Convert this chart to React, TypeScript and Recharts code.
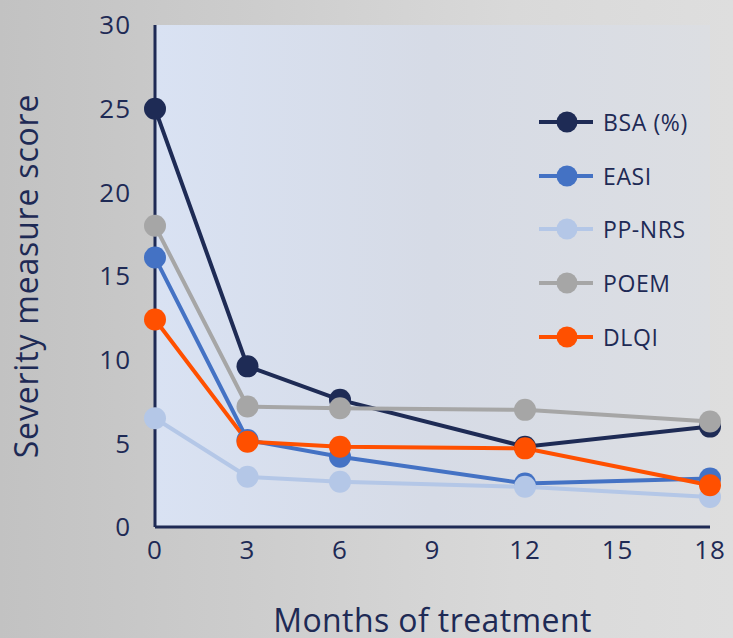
import React from 'react';
import {
  LineChart,
  Line,
  XAxis,
  YAxis,
  CartesianGrid,
} from 'recharts';

const months = [0, 3, 6, 12, 18];
const monthTicks = [0, 3, 6, 9, 12, 15, 18];
const scoreTicks = [0, 5, 10, 15, 20, 25, 30];

const bsa = [25, 9.6, 7.6, 4.8, 6.0];
const easi = [16.1, 5.2, 4.2, 2.6, 2.9];
const ppNrs = [6.5, 3.0, 2.7, 2.4, 1.8];
const poem = [18.0, 7.2, 7.1, 7.0, 6.3];
const dlqi = [12.4, 5.1, 4.8, 4.7, 2.5];

const series = [
  { key: 'bsa', name: 'BSA (%)', color: '#1e2b55', values: bsa },
  { key: 'easi', name: 'EASI', color: '#4472c4', values: easi },
  { key: 'ppNrs', name: 'PP-NRS', color: '#b4c7e7', values: ppNrs },
  { key: 'poem', name: 'POEM', color: '#a6a6a6', values: poem },
  { key: 'dlqi', name: 'DLQI', color: '#ff5000', values: dlqi },
];

const chartData = months.map((m, i) => {
  const row: Record<string, number> = { month: m };
  series.forEach((s) => {
    row[s.key] = s.values[i];
  });
  return row;
});

const NAVY = '#1e2a55';
const FONT = '"Open Sans", sans-serif';

const LegendBox: React.FC = () => (
  <div style={{ position: 'absolute', left: 536, top: 95, fontFamily: FONT }}>
    {series.map((s) => (
      <div key={s.key} style={{ display: 'flex', alignItems: 'center', height: 53.7 }}>
        <svg width={60} height={26}>
          <line x1={3} y1={13} x2={57} y2={13} stroke={s.color} strokeWidth={4} />
          <circle cx={31} cy={13} r={10.5} fill={s.color} />
        </svg>
        <span style={{ marginLeft: 7, fontSize: 23, letterSpacing: 0.6, color: NAVY }}>{s.name}</span>
      </div>
    ))}
  </div>
);

const App: React.FC = () => {
  return (
    <div
      style={{
        position: 'absolute',
        left: 0,
        top: 0,
        width: 733,
        height: 638,
        overflow: 'hidden',
        background: 'linear-gradient(90deg, #c2c2c2 0%, #cdcdcd 35%, #d9d9d9 70%, #dedede 100%)',
      }}
    >
      <svg width={0} height={0} style={{ position: 'absolute' }}>
        <defs>
          <linearGradient id="plotBg" x1="0" y1="0" x2="1" y2="0">
            <stop offset="0%" stopColor="#d9e2f3" />
            <stop offset="50%" stopColor="#d6dbe6" />
            <stop offset="100%" stopColor="#dcdee2" />
          </linearGradient>
        </defs>
      </svg>
      <LineChart
        width={733}
        height={638}
        data={chartData}
        margin={{ top: 25, right: 23, left: 0, bottom: 0 }}
      >
        <CartesianGrid horizontal={false} vertical={false} fill="url(#plotBg)" stroke="none" />
        <XAxis
          dataKey="month"
          type="number"
          domain={[0, 18]}
          ticks={monthTicks}
          height={111}
          axisLine={{ stroke: NAVY, strokeWidth: 3 }}
          tickLine={false}
          tickMargin={8}
          tick={{ fill: NAVY, fontSize: 26, fontFamily: FONT, letterSpacing: 1 }}
          label={{
            value: 'Months of treatment',
            position: 'insideBottom',
            offset: 6,
            fill: NAVY,
            fontSize: 32,
            fontFamily: FONT,
            letterSpacing: 0.4,
          }}
        />
        <YAxis
          type="number"
          domain={[0, 30]}
          ticks={scoreTicks}
          width={155}
          axisLine={{ stroke: NAVY, strokeWidth: 3 }}
          tickLine={false}
          tickMargin={18}
          tick={{ fill: NAVY, fontSize: 26, fontFamily: FONT, letterSpacing: 1 }}
          label={{
            value: 'Severity measure score',
            angle: -90,
            position: 'insideLeft',
            textAnchor: 'middle',
            offset: 27,
            fill: NAVY,
            fontSize: 32,
            fontFamily: FONT,
            letterSpacing: 0.8,
          }}
        />
        {series.map((s) => (
          <Line
            key={s.key}
            type="linear"
            dataKey={s.key}
            name={s.name}
            stroke={s.color}
            strokeWidth={4}
            dot={{ r: 11, fill: s.color, stroke: 'none' }}
            activeDot={false}
            isAnimationActive={false}
          />
        ))}
      </LineChart>
      <LegendBox />
    </div>
  );
};

export default App;
